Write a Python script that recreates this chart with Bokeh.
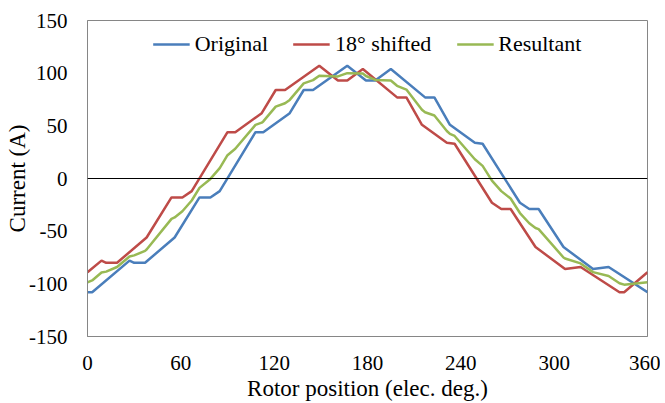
from bokeh.plotting import figure
from bokeh.models import Span, Legend, LegendItem, FixedTicker, Range1d
from bokeh.embed import file_html
from bokeh.resources import INLINE

# Original current (vertices)
orig_x = [0, 3, 27, 30, 37, 56, 72, 79, 85, 108, 113, 130, 139, 145, 167, 179, 185,
          195, 217, 223, 233, 249, 254, 278, 284, 290, 306, 325, 335, 360]
orig_y = [-108, -108, -78, -80, -80, -56, -18, -18, -12, 44, 44, 62, 84, 84, 107, 93, 93,
          104, 77, 77, 51, 34, 33, -23, -29, -29, -65, -86, -84, -108]

# 18 degree shifted current
shift_x = [0, 9, 12, 19, 38, 54, 61, 67, 90, 95, 112, 121, 127, 149, 161, 167, 177,
           199, 205, 215, 231, 236, 260, 266, 272, 288, 307, 317, 342, 345, 360]
shift_y = [-89, -78, -80, -80, -56, -18, -18, -12, 44, 44, 62, 84, 84, 107, 93, 93, 104,
           77, 77, 51, 34, 33, -23, -29, -29, -65, -86, -84, -108, -108, -89]

# Resultant current
res_x = [0, 3, 9, 12, 19, 27, 30, 37, 38, 54, 56, 61, 67, 72, 79, 85, 90, 95, 108, 112,
         113, 121, 127, 130, 139, 145, 149, 161, 167, 177, 179, 185, 195, 199, 205, 215,
         217, 223, 231, 233, 236, 249, 254, 260, 266, 272, 278, 284, 288, 290, 306, 307,
         317, 325, 335, 342, 345, 360]
res_y = [-98.6, -96.8, -89.3, -88.4, -84, -74, -73, -68.7, -67.4, -38.3, -37, -31.1, -20.9,
         -8.9, -0.4, 9.9, 22.1, 28.2, 50.9, 53, 54.2, 68.2, 71.4, 74.6, 90.3, 93.4, 97.6,
         96.9, 100, 99.7, 97.3, 93.6, 93, 88, 84.4, 65.3, 62.9, 59.8, 45.1, 42.3, 40.4,
         18.3, 12, -2, -12, -19, -32.8, -42.5, -47, -48.1, -75, -76, -80.6, -88.9, -92.6,
         -99.4, -100.8, -98.6]

x_ticks = [0, 60, 120, 180, 240, 300, 360]
y_ticks = [-150, -100, -50, 0, 50, 100, 150]
y_tick_labels = ["-150", "-100", "-50", "0", "50", "100", "150"]

FONT = "Liberation Serif"

p = figure(width=660, height=403, output_backend="svg", toolbar_location=None,
           x_range=Range1d(0, 360), y_range=Range1d(-150, 150),
           min_border_left=87, min_border_right=13, min_border_top=20, min_border_bottom=66)

p.background_fill_color = "white"
p.border_fill_color = "white"
p.outline_line_color = "#868686"
p.outline_line_width = 1
p.xgrid.visible = False
p.ygrid.visible = False

for ax in (p.xaxis[0], p.yaxis[0]):
    ax.axis_line_color = "#868686"
    ax.major_tick_line_color = None
    ax.major_tick_out = 0
    ax.minor_tick_line_color = None
    ax.major_label_text_font = FONT
    ax.major_label_text_font_size = "21px"
    ax.major_label_text_color = "black"
    ax.axis_label_text_font = FONT
    ax.axis_label_text_font_size = "23px"
    ax.axis_label_text_font_style = "normal"
    ax.axis_label_text_color = "black"

p.xaxis.ticker = FixedTicker(ticks=x_ticks)
p.yaxis.ticker = FixedTicker(ticks=y_ticks)
p.yaxis.major_label_overrides = {t: s for t, s in zip(y_ticks, y_tick_labels)}
p.xaxis.axis_label = "Rotor position (elec. deg.)"
p.yaxis.axis_label = "Current (A)"
p.xaxis.major_label_standoff = 19
p.yaxis.major_label_standoff = 20
p.xaxis.axis_label_standoff = 3
p.yaxis.axis_label_standoff = -4

p.add_layout(Span(location=0, dimension="width", line_color="black", line_width=1))

r1 = p.line(orig_x, orig_y, line_color="#4A7EBB", line_width=2.5)
r2 = p.line(shift_x, shift_y, line_color="#BE4B48", line_width=2.5)
r3 = p.line(res_x, res_y, line_color="#98B954", line_width=2.5)

legend = Legend(items=[LegendItem(label="Original", renderers=[r1]),
                       LegendItem(label="18° shifted", renderers=[r2]),
                       LegendItem(label="Resultant", renderers=[r3])],
                orientation="horizontal", location="top_center",
                label_text_font=FONT, label_text_font_size="22px",
                label_text_color="black",
                glyph_width=37, glyph_height=22, label_standoff=5, spacing=25,
                padding=0, margin=11, border_line_color=None,
                background_fill_alpha=0)
p.add_layout(legend)

open("out.html", "w").write(file_html(p, INLINE))
